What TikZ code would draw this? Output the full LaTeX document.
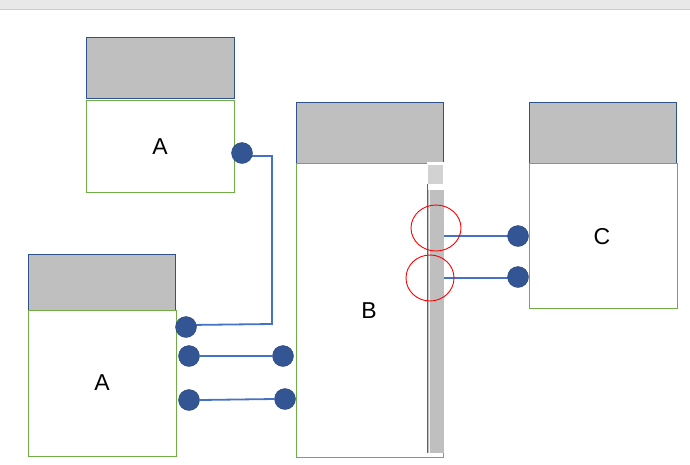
\documentclass[tikz,border=0pt]{standalone}
\usepackage{fontspec}
\setmainfont{Liberation Sans}
\usetikzlibrary{backgrounds}
\definecolor{hdrblue}{HTML}{2F528F}
\definecolor{bodygreen}{HTML}{70AD47}
\definecolor{hdrgray}{HTML}{BFBFBF}
\definecolor{dotblue}{HTML}{335593}
\definecolor{wireblue}{HTML}{4472C4}
\tikzset{
  header/.style={draw=hdrblue, fill=hdrgray, line width=0.9pt, anchor=north west, inner sep=0pt},
  body/.style={draw=bodygreen, fill=white, line width=0.9pt, anchor=north west, inner sep=0pt},
  label/.style={font=\fontsize{23}{27}\selectfont, inner sep=0pt},
  dot/.style={circle, fill=dotblue, draw=dotblue!80!black, line width=0.4pt, minimum size=21pt, inner sep=0pt},
  wire/.style={draw=wireblue, line width=1.8pt},
}
\begin{document}
\begin{tikzpicture}[x=1pt,y=-1pt]
\useasboundingbox (0,0) rectangle (690,464);
% top bar
\fill[gray!18] (0,0) rectangle (690,9);
\draw[gray!40, line width=1pt] (0,9.5) -- (690,9.5);

% top-left A
\node[header, minimum width=148pt, minimum height=61pt] (hA1) at (86,37) {};
\node[body, minimum width=148pt, minimum height=92pt] (bA1) at (86,100) {};
\node[label] (tA1) at (160,147) {A};

% bottom-left A
\node[header, minimum width=147pt, minimum height=59pt] (hA2) at (28,254) {};
\node[body, minimum width=148pt, minimum height=146pt] (bA2) at (28,310) {};
\node[label] (tA2) at (102,383) {A};

% B
\node[header, minimum width=147pt, minimum height=61pt] (hB) at (296,102) {};
\node[body, minimum width=147pt, minimum height=294pt] (bB) at (296,163) {};
\node[label] (tB) at (369,311) {B};
% scrollbar
\fill[white] (427,162) rectangle (444,190);
\fill[gray!35] (428,165) rectangle (443,184);
\fill[hdrgray] (427,190) rectangle (444,453);
\draw[gray!75!black, line width=1.2pt] (427.5,184) -- (427.5,453);
\draw[white!90!gray, line width=0.6pt] (429.5,190) -- (429.5,453);

% C
\node[header, minimum width=147pt, minimum height=61pt] (hC) at (529,102) {};
\node[body, minimum width=148pt, minimum height=145pt] (bC) at (529,163) {};
\node[label] (tC) at (602,237) {C};

% connector anchors
\coordinate (k1) at (272,156);
\coordinate (k2) at (272,324);
\coordinate (s1) at (444,236);
\coordinate (s2) at (444,278);
\coordinate (e1) at (243,156);
\coordinate (e2) at (188,325);

% wires first, dots drawn on top
\draw[wire] (e1) -- (k1) -- (k2) -- (e2);
\draw[wire] (s1) -- (518,236);
\draw[wire] (s2) -- (518,278);

% dots
\node[dot] (a1) at (242,153) {};
\node[dot] (a2) at (186,327) {};
\node[dot] (a3) at (189,356) {};
\node[dot] (a4) at (189,400) {};
\node[dot] (b1) at (283,356) {};
\node[dot] (b2) at (285,399) {};
\node[dot] (c1) at (518,236) {};
\node[dot] (c2) at (518,277) {};

\draw[wire] (a3.east) -- (b1.west);
\draw[wire] (a4.east) -- (b2.west);

% red rings
\draw[red, line width=0.9pt] (436,228) ellipse [x radius=25pt, y radius=23pt];
\draw[red, line width=0.9pt] (430,278) ellipse [x radius=24pt, y radius=23pt];
\end{tikzpicture}
\end{document}
